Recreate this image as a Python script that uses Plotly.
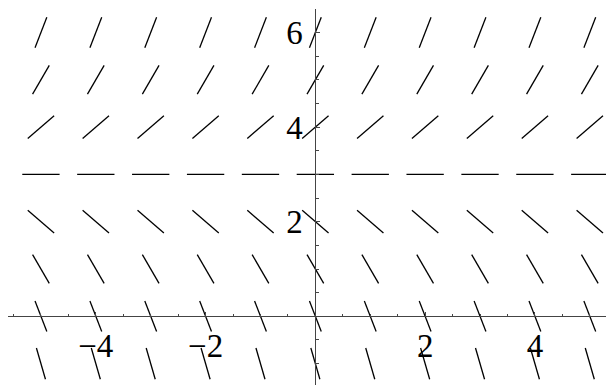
import numpy as np
import plotly.graph_objects as go

x_vals = [-5, -4, -3, -2, -1, 0, 1, 2, 3, 4, 5]
y_vals = [-1, 0, 1, 2, 3, 4, 5, 6]
slopes = [-4, -3, -2, -1, 0, 1, 2, 3]   # slope of segments in each row
seg_len = 0.68                           # segment length in data units

x_tick_vals = [-4, -2, 2, 4]
x_tick_text = ["\u22124", "\u22122", "2", "4"]
y_tick_vals = [2, 4, 6]
y_tick_text = ["2", "4", "6"]

x_range = [-5.6, 5.441]
y_range = [-1.452, 6.497]

xs, ys = [], []
for y, m in zip(y_vals, slopes):
    hx = seg_len / 2 / np.sqrt(1 + m * m)
    hy = m * hx
    for x in x_vals:
        xs += [x - hx, x + hx, None]
        ys += [y - hy, y + hy, None]

fig = go.Figure()
fig.add_trace(go.Scatter(x=xs, y=ys, mode="lines",
                         line=dict(color="black", width=1.3),
                         hoverinfo="skip", showlegend=False))

font = dict(family="Liberation Serif, Times New Roman, serif", size=33, color="black")
axis_col = "#444444"

fig.update_layout(
    width=606, height=377,
    margin=dict(l=0, r=0, t=1, b=0),
    paper_bgcolor="white", plot_bgcolor="white",
    showlegend=False,
    xaxis=dict(
        range=x_range, anchor="free", automargin=False,
        position=(0 - y_range[0]) / (y_range[1] - y_range[0]),
        showline=True, linecolor=axis_col, linewidth=1,
        showgrid=False, zeroline=False,
        ticks="inside", ticklen=4, tickcolor=axis_col, tickwidth=1,
        tickmode="array", tickvals=x_tick_vals, ticktext=x_tick_text,
        tickfont=font, ticklabelstandoff=0,
        minor=dict(ticks="inside", ticklen=2.5, tickcolor=axis_col,
                   tickmode="linear", tick0=0, dtick=0.5, showgrid=False),
    ),
    yaxis=dict(
        range=y_range, anchor="free", automargin=False,
        position=(0 - x_range[0]) / (x_range[1] - x_range[0]),
        showline=True, linecolor=axis_col, linewidth=1,
        showgrid=False, zeroline=False,
        ticks="inside", ticklen=4, tickcolor=axis_col, tickwidth=1,
        tickmode="array", tickvals=y_tick_vals, ticktext=y_tick_text,
        tickfont=font, ticklabelstandoff=6,
        minor=dict(ticks="inside", ticklen=2.5, tickcolor=axis_col,
                   tickmode="linear", tick0=0, dtick=0.5, showgrid=False),
    ),
)

fig.write_html("out.html")
